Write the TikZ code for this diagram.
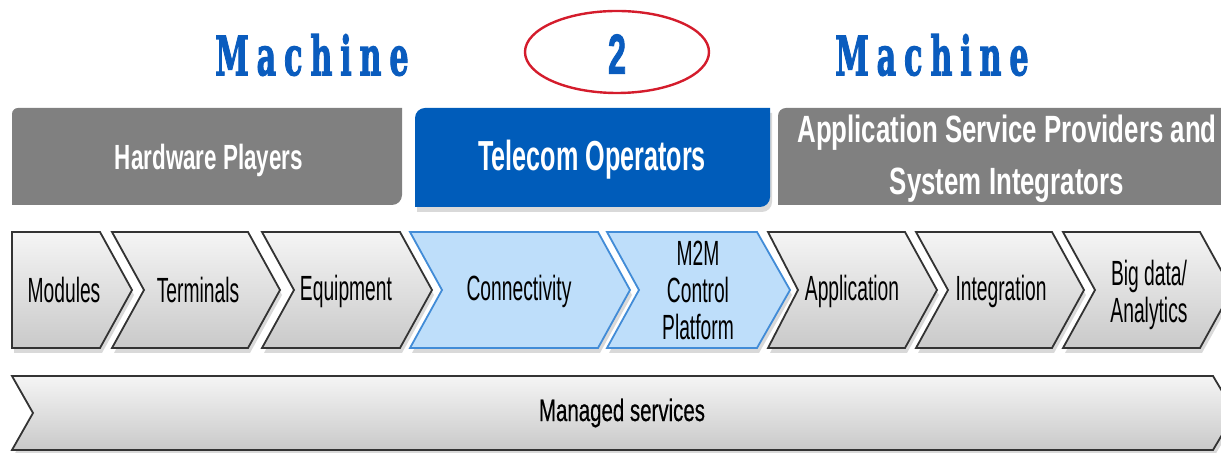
\documentclass[tikz,border=0pt]{standalone}
\usepackage{fontspec}
\setmainfont{Liberation Sans}
\newfontfamily\titlefont[LetterSpace=26,FakeBold=2.5]{DejaVu Serif}
\newfontfamily\heavyfont[FakeBold=2]{Liberation Sans}
\newfontfamily\semifont[FakeBold=0.6]{Liberation Sans}
\usetikzlibrary{shapes.geometric,shadows}
\definecolor{titleblue}{RGB}{10,92,190}
\definecolor{ringred}{RGB}{212,28,44}
\definecolor{telblue}{RGB}{0,92,186}
\definecolor{hdrgray}{RGB}{128,128,128}
\definecolor{paleblue}{RGB}{190,222,250}
\definecolor{linkblue}{RGB}{66,140,215}

\begin{document}
\begin{tikzpicture}[x=0.5pt,y=-0.5pt,
    grayarrow/.style={draw=black!80, line width=0.9pt, top color=gray!8, bottom color=gray!42,
      drop shadow={opacity=0.3, shadow xshift=1pt, shadow yshift=-2.5pt}},
    bluearrow/.style={draw=linkblue, line width=0.9pt, fill=paleblue,
      drop shadow={opacity=0.3, shadow xshift=1pt, shadow yshift=-2.5pt}},
    lbl/.style={font=\fontsize{17.5}{18.5}\selectfont, xscale=0.55, align=center},
    hdr/.style={text=white, align=center}]
    \useasboundingbox (0,0) rectangle (1221,453);
    % title line
    \node[font=\titlefont\bfseries\fontsize{27}{30}\selectfont, text=titleblue, xscale=0.56] (machinea) at (312,55) {Machine};
    \node[ellipse, draw=ringred, line width=1.2pt, minimum width=92pt, minimum height=41pt] (ring) at (617,52) {};
    \node[font=\heavyfont\bfseries\fontsize{28}{30}\selectfont, text=titleblue, xscale=0.58] (two) at (617,54) {2};
    \node[font=\titlefont\bfseries\fontsize{27}{30}\selectfont, text=titleblue, xscale=0.56] (machineb) at (932,55) {Machine};
    % players
    \fill[hdrgray] (12,205) [rounded corners=3pt] -- (12,108) [sharp corners] -- (402,108) [rounded corners=5pt] -- (402,205) [sharp corners] -- cycle;
    \node[hdr, font=\bfseries\fontsize{17.5}{20}\selectfont, xscale=0.64] (hardware) at (209,160) {Hardware Players};
    \fill[telblue, drop shadow={opacity=0.3, shadow xshift=1pt, shadow yshift=-2.5pt}] (415,207) [rounded corners=5pt] -- (415,108) [sharp corners] -- (770,108) [rounded corners=5pt] -- (770,207) [sharp corners] -- cycle;
    \node[hdr, font=\bfseries\fontsize{21}{24}\selectfont, xscale=0.6] (telecom) at (592,160) {Telecom Operators};
    \fill[hdrgray] (778,205) [rounded corners=4pt] -- (778,108) [sharp corners] -- (1225,108) -- (1225,205) -- cycle;
    \node[hdr, font=\bfseries\fontsize{19}{26}\selectfont, xscale=0.68] (asp) at (1007,159) {Application Service Providers and\\System Integrators};
    % value chain
    \draw[grayarrow] (12,232) -- (100,232) -- (132,290) -- (100,348) -- (12,348) -- cycle;
    \node[lbl] (modules) at (64,290) {Modules};
    \draw[grayarrow] (112,232) -- (248,232) -- (280,290) -- (248,348) -- (112,348) -- (144,290) -- cycle;
    \node[lbl] (terminals) at (198,290) {Terminals};
    \draw[grayarrow] (262,232) -- (400,232) -- (432,290) -- (400,348) -- (262,348) -- (294,290) -- cycle;
    \node[lbl] (equipment) at (346,291) {Equipment};
    \draw[bluearrow] (410,232) -- (598,232) -- (630,290) -- (598,348) -- (410,348) -- (442,290) -- cycle;
    \node[lbl] (connectivity) at (519,291) {Connectivity};
    \draw[bluearrow] (607,232) -- (757,232) -- (790,290) -- (757,348) -- (607,348) -- (639,290) -- cycle;
    \node[lbl] (platform) at (698,290) {M2M\\Control\\Platform};
    \draw[grayarrow] (768,232) -- (905,232) -- (937,290) -- (905,348) -- (768,348) -- (798,290) -- cycle;
    \node[lbl] (application) at (852,291) {Application};
    \draw[grayarrow] (916,232) -- (1052,232) -- (1084,290) -- (1052,348) -- (916,348) -- (948,290) -- cycle;
    \node[lbl] (integration) at (1001,291) {Integration};
    \draw[grayarrow] (1063,232) -- (1200,232) -- (1232,290) -- (1200,348) -- (1063,348) -- (1095,290) -- cycle;
    \node[lbl] (bigdata) at (1149,295) {Big data/\\Analytics};
    % managed services
    \draw[grayarrow] (12,376) -- (1213,376) -- (1235,413) -- (1213,450) -- (12,450) -- (33,413) -- cycle;
    \node[font=\semifont\fontsize{15.5}{18}\selectfont, xscale=0.66] (managed) at (622,413) {Managed services};
  \end{tikzpicture}
\end{document}
